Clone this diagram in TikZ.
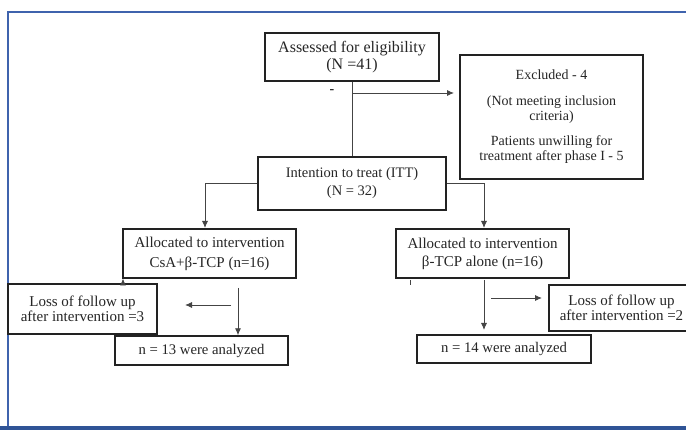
\documentclass[tikz,border=0pt]{standalone}
\usepackage{fontspec}
\setmainfont{Liberation Serif}
\usetikzlibrary{arrows.meta}
\definecolor{frameblue}{HTML}{3F63AD}
\definecolor{bandblue}{HTML}{2F5496}
\definecolor{boxline}{HTML}{222222}
\definecolor{arrline}{HTML}{444444}
\tikzset{
  flowbox/.style={draw=boxline, line width=1.4pt, rectangle, inner sep=0pt, align=center, text=black!85},
  arr/.style={draw=arrline, line width=0.9pt, -{Latex[length=7pt,width=6pt]}},
  plain/.style={draw=arrline, line width=0.9pt},
}
\begin{document}
\begin{tikzpicture}[x=1pt,y=-1pt]
\useasboundingbox (0,0) rectangle (686,430);
\clip (0,0) rectangle (686,430);
% frame
\fill[white] (0,0) rectangle (686,430);
\draw[frameblue, line width=1.4pt] (686,12) -- (8,12) -- (8,428);
\fill[bandblue] (0,426) rectangle (686,431);

% nodes
\node[flowbox, minimum width=174pt, minimum height=48pt, font=\fontsize{16}{17.5}\selectfont] (assess) at (352,57) {Assessed for eligibility\\(N =41)};
\node[flowbox, minimum width=183pt, minimum height=124pt, font=\fontsize{14}{15.5}\selectfont] (excl) at (551.5,117) {Excluded - 4\\[10pt](Not meeting inclusion\\criteria)\\[9pt]Patients unwilling for\\treatment after phase I - 5};
\node[flowbox, minimum width=188pt, minimum height=53pt, font=\fontsize{14.5}{18}\selectfont] (itt) at (352,183.5) {Intention to treat (ITT)\\(N = 32)};
\node[flowbox, minimum width=173pt, minimum height=49pt, font=\fontsize{15}{20}\selectfont] (alloc1) at (209.5,253.5) {Allocated to intervention\\CsA+β-TCP (n=16)};
\node[flowbox, minimum width=173pt, minimum height=49pt, font=\fontsize{15}{18}\selectfont] (alloc2) at (482.5,253.5) {Allocated to intervention\\β-TCP alone (n=16)};
\node[flowbox, minimum width=149pt, minimum height=50pt, font=\fontsize{15}{14.5}\selectfont] (loss1) at (82.5,309) {Loss of follow up\\after intervention =3};
\node[flowbox, minimum width=145pt, minimum height=46pt, font=\fontsize{15}{14.5}\selectfont] (loss2) at (621.5,308) {Loss of follow up\\after intervention =2};
\node[flowbox, minimum width=173pt, minimum height=29pt, font=\fontsize{14.7}{17}\selectfont] (an1) at (201.5,350.5) {n = 13 were analyzed};
\node[flowbox, minimum width=174pt, minimum height=28pt, font=\fontsize{14.7}{17}\selectfont] (an2) at (504,349) {n = 14 were analyzed};
\node[font=\fontsize{14}{16}\selectfont, inner sep=0pt] (dash) at (332,92) {-};

% coordinates for free ends
\coordinate (exA) at (352,93);
\coordinate (exB) at (454,93);
\coordinate (l1) at (205,228);
\coordinate (r1) at (484,228);
\coordinate (v1s) at (238,288);
\coordinate (h1s) at (231,305);
\coordinate (h1e) at (185,305);
\coordinate (upS) at (123,284.5);
\coordinate (upE) at (123,278.5);
\coordinate (v2s) at (484,280);
\coordinate (v2e) at (484,330);
\coordinate (h2s) at (491,298);
\coordinate (h2e) at (542,298);
\coordinate (tkS) at (410,280);
\coordinate (tkE) at (410,285);

% connectors
\draw[plain] (assess.south) -- (itt.north);
\draw[arr] (exA) -- (exB);
\draw[arr] (itt.west) -| (l1);
\draw[arr] (itt.east) -| (r1);
\draw[arr] (v1s) -- (v1s |- an1.north);
\draw[arr] (h1s) -- (h1e);
\draw[arr] (upS) -- (upE);
\draw[arr] (v2s) -- (v2e);
\draw[arr] (h2s) -- (h2e);
\draw[plain] (tkS) -- (tkE);
\end{tikzpicture}
\end{document}
